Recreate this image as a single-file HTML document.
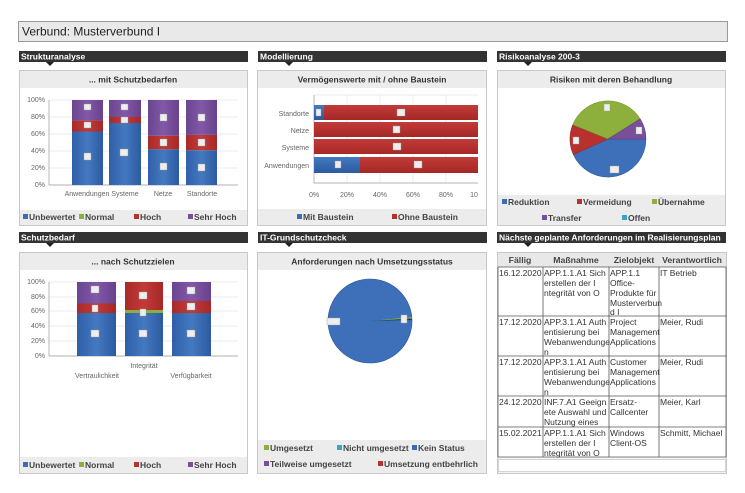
<!DOCTYPE html>
<html><head><meta charset="utf-8"><style>
html,body{margin:0;padding:0;background:#fff;}
svg{display:block;font-family:"Liberation Sans",sans-serif;}
.hd{font-size:8.5px;font-weight:bold;fill:#fff;}
.tt{font-size:8.5px;font-weight:bold;fill:#333;}
.ax{font-size:7px;fill:#666;}
.lg{font-size:8.5px;font-weight:bold;fill:#444;}
.tb{font-size:8.5px;fill:#333;}
.th{font-size:8.7px;font-weight:bold;fill:#444;}
.dl{font-size:6px;fill:#555;}
</style></head><body>
<svg width="745" height="493" viewBox="0 0 745 493">
<defs>
<linearGradient id="gb" x1="0" x2="1"><stop offset="0" stop-color="#2f5fa8"/><stop offset=".5" stop-color="#4479c0"/><stop offset="1" stop-color="#2c5aa0"/></linearGradient>
<linearGradient id="gr" x1="0" x2="1"><stop offset="0" stop-color="#a82a28"/><stop offset=".5" stop-color="#c23b38"/><stop offset="1" stop-color="#a52826"/></linearGradient>
<linearGradient id="gp" x1="0" x2="1"><stop offset="0" stop-color="#6a4590"/><stop offset=".5" stop-color="#8258a8"/><stop offset="1" stop-color="#67428c"/></linearGradient>
<linearGradient id="gbh" x1="0" y1="0" x2="0" y2="1"><stop offset="0" stop-color="#4479c0"/><stop offset="1" stop-color="#2c5aa0"/></linearGradient>
<linearGradient id="grh" x1="0" y1="0" x2="0" y2="1"><stop offset="0" stop-color="#c23b38"/><stop offset="1" stop-color="#a52826"/></linearGradient>
</defs>
<rect x="18.5" y="21.5" width="709" height="20" fill="#e9e9e9" stroke="#999"/>
<text x="22" y="35.5" font-size="12" fill="#222">Verbund: Musterverbund I</text>

<g>
<rect x="19" y="51" width="229" height="11" fill="#333"/><text class="hd" x="21" y="59.5">Strukturanalyse</text><path d="M46 62h8l-4 4z" fill="#222"/>
<rect x="258" y="51" width="229" height="11" fill="#333"/><text class="hd" x="260" y="59.5">Modellierung</text><path d="M285 62h8l-4 4z" fill="#222"/>
<rect x="497" y="51" width="229" height="11" fill="#333"/><text class="hd" x="499" y="59.5">Risikoanalyse 200-3</text><path d="M524 62h8l-4 4z" fill="#222"/>
<rect x="19" y="232" width="229" height="11" fill="#333"/><text class="hd" x="21" y="240.5">Schutzbedarf</text><path d="M46 243h8l-4 4z" fill="#222"/>
<rect x="258" y="232" width="229" height="11" fill="#333"/><text class="hd" x="260" y="240.5">IT-Grundschutzcheck</text><path d="M285 243h8l-4 4z" fill="#222"/>
<rect x="497" y="232" width="229" height="11" fill="#333"/><text class="hd" x="499" y="240.5">Nächste geplante Anforderungen im Realisierungsplan</text><path d="M524 243h8l-4 4z" fill="#222"/>
</g>

<rect x="19.5" y="70.5" width="228" height="155" fill="#fff" stroke="#c8c8c8"/>
<rect x="20" y="71" width="227" height="17" fill="#ececec"/>
<text class="tt" x="133" y="82.5" text-anchor="middle">... mit Schutzbedarfen</text>
<g stroke="#e4e4e4" stroke-width="0.7">
<line x1="49" y1="100" x2="238" y2="100"/><line x1="49" y1="117" x2="238" y2="117"/><line x1="49" y1="134" x2="238" y2="134"/><line x1="49" y1="151" x2="238" y2="151"/><line x1="49" y1="168" x2="238" y2="168"/></g>
<line x1="49" y1="100" x2="49" y2="185" stroke="#999" stroke-width=".7"/><line x1="49" y1="185" x2="238" y2="185" stroke="#999" stroke-width=".7"/>
<g class="ax" text-anchor="end"><text x="45" y="102">100%</text><text x="45" y="119">80%</text><text x="45" y="136">60%</text><text x="45" y="153">40%</text><text x="45" y="170">20%</text><text x="45" y="187">0%</text></g>
<g>
<rect x="72" y="131.5" width="31" height="53.5" fill="url(#gb)"/><rect x="72" y="120.4" width="31" height="11.1" fill="url(#gr)"/><rect x="72" y="100" width="31" height="20.4" fill="url(#gp)"/>
<rect x="109" y="123" width="32" height="62" fill="url(#gb)"/><rect x="109" y="117" width="32" height="6" fill="url(#gr)"/><rect x="109" y="100" width="32" height="17" fill="url(#gp)"/>
<rect x="148" y="149.3" width="31" height="35.7" fill="url(#gb)"/><rect x="148" y="135.7" width="31" height="13.6" fill="url(#gr)"/><rect x="148" y="100" width="31" height="35.7" fill="url(#gp)"/>
<rect x="186" y="150.2" width="31" height="34.8" fill="url(#gb)"/><rect x="186" y="134.9" width="31" height="15.3" fill="url(#gr)"/><rect x="186" y="100" width="31" height="34.9" fill="url(#gp)"/>
</g>
<g fill="#eee" stroke="#999" stroke-width=".4">
<rect x="84" y="153" width="7" height="7"/><rect x="84" y="122" width="7" height="6"/><rect x="84" y="104" width="7" height="6"/>
<rect x="120" y="149" width="8" height="7"/><rect x="121" y="117" width="7" height="6"/><rect x="121" y="104" width="7" height="6"/>
<rect x="160" y="163" width="7" height="7"/><rect x="160" y="139" width="7" height="7"/><rect x="160" y="114" width="7" height="7"/>
<rect x="198" y="164" width="7" height="7"/><rect x="198" y="139" width="7" height="7"/><rect x="198" y="114" width="7" height="7"/>
</g>
<g class="ax" font-size="6.3" text-anchor="middle"><text x="87" y="196">Anwendungen</text><text x="125" y="196">Systeme</text><text x="163" y="196">Netze</text><text x="202" y="196">Standorte</text></g>
<rect x="20" y="210" width="227" height="15" fill="#ececec"/>
<g class="lg"><rect x="23" y="214" width="5" height="5" fill="#3a6db5"/><text x="29" y="220">Unbewertet</text>
<rect x="79" y="214" width="5" height="5" fill="#8db03c"/><text x="85" y="220">Normal</text>
<rect x="134" y="214" width="5" height="5" fill="#b8312f"/><text x="140" y="220">Hoch</text>
<rect x="188" y="214" width="5" height="5" fill="#7a4f9a"/><text x="194" y="220">Sehr Hoch</text></g>

<rect x="257.5" y="70.5" width="229" height="155" fill="#fff" stroke="#c8c8c8"/>
<rect x="258" y="71" width="228" height="17" fill="#ececec"/>
<text class="tt" x="372" y="82.5" text-anchor="middle">Vermögenswerte mit / ohne Baustein</text>
<g stroke="#e4e4e4" stroke-width=".7"><line x1="347" y1="95" x2="347" y2="183"/><line x1="380" y1="95" x2="380" y2="183"/><line x1="413" y1="95" x2="413" y2="183"/><line x1="446" y1="95" x2="446" y2="183"/><line x1="314" y1="95" x2="478" y2="95"/></g>
<line x1="314" y1="95" x2="314" y2="183" stroke="#999" stroke-width=".7"/><line x1="314" y1="183" x2="478" y2="183" stroke="#999" stroke-width=".7"/>
<rect x="314" y="105" width="10" height="15" fill="url(#gbh)"/><rect x="324" y="105" width="154" height="15" fill="url(#grh)"/>
<rect x="314" y="122" width="164" height="15" fill="url(#grh)"/>
<rect x="314" y="139" width="164" height="15" fill="url(#grh)"/>
<rect x="314" y="157" width="46" height="16" fill="url(#gbh)"/><rect x="360" y="157" width="118" height="16" fill="url(#grh)"/>
<g fill="#eee" stroke="#999" stroke-width=".4"><rect x="316" y="109" width="5" height="7"/><rect x="397" y="109" width="8" height="7"/><rect x="393" y="126" width="7" height="7"/><rect x="393" y="143" width="8" height="7"/><rect x="335" y="161" width="6" height="7"/><rect x="414" y="161" width="8" height="7"/></g>
<g class="ax" text-anchor="end" font-size="7.2"><text x="309" y="116">Standorte</text><text x="309" y="133">Netze</text><text x="309" y="150">Systeme</text><text x="309" y="168">Anwendungen</text></g>
<g class="ax" text-anchor="middle" font-size="7.2"><text x="314" y="197">0%</text><text x="347" y="197">20%</text><text x="380" y="197">40%</text><text x="413" y="197">60%</text><text x="446" y="197">80%</text><text x="474" y="197">10</text></g>
<rect x="258" y="209" width="228" height="16" fill="#ececec"/>
<g class="lg"><rect x="297" y="214" width="5" height="5" fill="#3a6db5"/><text x="303" y="220">Mit Baustein</text>
<rect x="392" y="214" width="5" height="5" fill="#b8312f"/><text x="398" y="220">Ohne Baustein</text></g>

<rect x="497.5" y="70.5" width="228" height="155" fill="#fff" stroke="#c8c8c8"/>
<rect x="498" y="71" width="227" height="17" fill="#ececec"/>
<text class="tt" x="611" y="82.5" text-anchor="middle">Risiken mit deren Behandlung</text>
<path d="M608 139 L646 139 A38 38 0 0 1 573.3 154.6 Z" fill="#3d70b8" stroke="#2b5595" stroke-width=".5"/>
<path d="M608 139 L573.3 154.6 A38 38 0 0 1 572.7 124.7 Z" fill="#b8312f" stroke="#8f2422" stroke-width=".5"/>
<path d="M608 139 L572.7 124.7 A38 38 0 0 1 640.2 118.8 Z" fill="#8db03c" stroke="#6d8a2c" stroke-width=".5"/>
<path d="M608 139 L640.2 118.8 A38 38 0 0 1 646 139 Z" fill="#7a4f9a" stroke="#5a3a74" stroke-width=".5"/>
<g fill="#eee" stroke="#999" stroke-width=".4"><rect x="604" y="104" width="6" height="7"/><rect x="573" y="137" width="6" height="7"/><rect x="636" y="127" width="6" height="7"/><rect x="610" y="166" width="9" height="7"/></g>
<rect x="498" y="195" width="227" height="30" fill="#ececec"/>
<g class="lg"><rect x="502" y="199" width="5" height="5" fill="#3a6db5"/><text x="508" y="205">Reduktion</text>
<rect x="577" y="199" width="5" height="5" fill="#b8312f"/><text x="583" y="205">Vermeidung</text>
<rect x="652" y="199" width="5" height="5" fill="#8db03c"/><text x="658" y="205">Übernahme</text>
<rect x="542" y="215" width="5" height="5" fill="#7a4f9a"/><text x="548" y="221">Transfer</text>
<rect x="622" y="215" width="5" height="5" fill="#3aa6c5"/><text x="628" y="221">Offen</text></g>

<rect x="19.5" y="252.5" width="228" height="221" fill="#fff" stroke="#c8c8c8"/>
<rect x="20" y="253" width="227" height="17" fill="#ececec"/>
<text class="tt" x="133" y="264.5" text-anchor="middle">... nach Schutzzielen</text>
<g stroke="#e4e4e4" stroke-width=".7"><line x1="49" y1="282" x2="238" y2="282"/><line x1="49" y1="297" x2="238" y2="297"/><line x1="49" y1="311" x2="238" y2="311"/><line x1="49" y1="326" x2="238" y2="326"/><line x1="49" y1="341" x2="238" y2="341"/></g>
<line x1="49" y1="282" x2="49" y2="356" stroke="#999" stroke-width=".7"/><line x1="49" y1="356" x2="238" y2="356" stroke="#999" stroke-width=".7"/>
<g class="ax" text-anchor="end"><text x="45" y="284">100%</text><text x="45" y="299">80%</text><text x="45" y="313">60%</text><text x="45" y="328">40%</text><text x="45" y="343">20%</text><text x="45" y="358">0%</text></g>
<rect x="77" y="313" width="39" height="43" fill="url(#gb)"/><rect x="77" y="303.5" width="39" height="9.5" fill="url(#gr)"/><rect x="77" y="282" width="39" height="21.5" fill="url(#gp)"/>
<rect x="125" y="313" width="38" height="43" fill="url(#gb)"/><rect x="125" y="310" width="38" height="3" fill="#8db03c"/><rect x="125" y="282" width="38" height="28" fill="url(#gr)"/>
<rect x="172" y="313" width="39" height="43" fill="url(#gb)"/><rect x="172" y="301" width="39" height="12" fill="url(#gr)"/><rect x="172" y="282" width="39" height="19" fill="url(#gp)"/>
<g fill="#eee" stroke="#999" stroke-width=".4"><rect x="91" y="330" width="8" height="7"/><rect x="92" y="305" width="6" height="7"/><rect x="91" y="286" width="8" height="7"/>
<rect x="139" y="330" width="8" height="7"/><rect x="140" y="309" width="6" height="7"/><rect x="139" y="292" width="8" height="7"/>
<rect x="187" y="330" width="8" height="7"/><rect x="187" y="303" width="8" height="7"/><rect x="187" y="287" width="8" height="7"/></g>
<g class="ax" text-anchor="middle" font-size="6.3"><text x="97" y="378">Vertraulichkeit</text><text x="144" y="368">Integrität</text><text x="191" y="378">Verfügbarkeit</text></g>
<rect x="20" y="457" width="227" height="16" fill="#ececec"/>
<g class="lg"><rect x="23" y="462" width="5" height="5" fill="#3a6db5"/><text x="29" y="468">Unbewertet</text>
<rect x="79" y="462" width="5" height="5" fill="#8db03c"/><text x="85" y="468">Normal</text>
<rect x="134" y="462" width="5" height="5" fill="#b8312f"/><text x="140" y="468">Hoch</text>
<rect x="188" y="462" width="5" height="5" fill="#7a4f9a"/><text x="194" y="468">Sehr Hoch</text></g>

<rect x="257.5" y="252.5" width="229" height="221" fill="#fff" stroke="#c8c8c8"/>
<rect x="258" y="253" width="228" height="17" fill="#ececec"/>
<text class="tt" x="372" y="264.5" text-anchor="middle">Anforderungen nach Umsetzungsstatus</text>
<circle cx="370" cy="321" r="42" fill="#3d70b8" stroke="#2b5595" stroke-width=".6"/>
<path d="M370 321 L411.8 317 L412 318.5 Z" fill="#8db03c"/><path d="M370 321 L412 318.5 L412 320 Z" fill="#1f3a66"/>
<g fill="#eee" stroke="#999" stroke-width=".4"><rect x="327" y="318" width="13" height="7"/><rect x="401" y="315" width="6" height="8"/></g>
<rect x="258" y="440" width="228" height="33" fill="#ececec"/>
<g class="lg"><rect x="264" y="445" width="5" height="5" fill="#8db03c"/><text x="270" y="451">Umgesetzt</text>
<rect x="337" y="445" width="5" height="5" fill="#3aa6c5"/><text x="343" y="451">Nicht umgesetzt</text>
<rect x="412" y="445" width="5" height="5" fill="#3a6db5"/><text x="418" y="451">Kein Status</text>
<rect x="264" y="461" width="5" height="5" fill="#7a4f9a"/><text x="270" y="467">Teilweise umgesetzt</text>
<rect x="378" y="461" width="5" height="5" fill="#b8312f"/><text x="384" y="467">Umsetzung entbehrlich</text></g>

<rect x="497.5" y="252.5" width="229" height="221" fill="#f4f4f4" stroke="#c8c8c8"/>
<rect x="498" y="253" width="228" height="14" fill="#e8e8e8"/>
<rect x="498" y="267" width="228" height="190" fill="#fff"/>
<g class="th" text-anchor="middle"><text x="520" y="263">Fällig</text><text x="576" y="263">Maßnahme</text><text x="634" y="263">Zielobjekt</text><text x="692" y="263">Verantwortlich</text></g>
<g stroke="#555" stroke-width=".8" fill="none">
<line x1="498" y1="267" x2="726" y2="267"/><line x1="498" y1="316" x2="726" y2="316"/><line x1="498" y1="356" x2="726" y2="356"/><line x1="498" y1="396" x2="726" y2="396"/><line x1="498" y1="427" x2="726" y2="427"/><line x1="498" y1="457" x2="726" y2="457"/>
<line x1="543" y1="267" x2="543" y2="457"/><line x1="609" y1="267" x2="609" y2="457"/><line x1="659" y1="267" x2="659" y2="457"/>
<line x1="498" y1="267" x2="498" y2="457"/><line x1="726" y1="267" x2="726" y2="457"/></g>
<rect x="498.5" y="459.5" width="227" height="12" fill="#fff" stroke="#bbb" stroke-width=".6"/>
<g class="tb">
<text x="499" y="276">16.12.2020</text><text x="544" y="276">APP.1.1.A1 Sich</text><text x="544" y="286">erstellen der I</text><text x="544" y="296">ntegrität von O</text>
<text x="610" y="276">APP.1.1</text><text x="610" y="286">Office-</text><text x="610" y="296">Produkte für</text><text x="610" y="306">Musterverbun</text><text x="610" y="315">d I</text><text x="660" y="276">IT Betrieb</text>
<text x="499" y="325">17.12.2020</text><text x="544" y="325">APP.3.1.A1 Auth</text><text x="544" y="335">entisierung bei</text><text x="544" y="345">Webanwendunge</text><text x="544" y="355">n</text>
<text x="610" y="325">Project</text><text x="610" y="335">Management</text><text x="610" y="345">Applications</text><text x="660" y="325">Meier, Rudi</text>
<text x="499" y="365">17.12.2020</text><text x="544" y="365">APP.3.1.A1 Auth</text><text x="544" y="375">entisierung bei</text><text x="544" y="385">Webanwendunge</text><text x="544" y="395">n</text>
<text x="610" y="365">Customer</text><text x="610" y="375">Management</text><text x="610" y="385">Applications</text><text x="660" y="365">Meier, Rudi</text>
<text x="499" y="405">24.12.2020</text><text x="544" y="405">INF.7.A1 Geeign</text><text x="544" y="415">ete Auswahl und</text><text x="544" y="425">Nutzung eines</text>
<text x="610" y="405">Ersatz-</text><text x="610" y="415">Callcenter</text><text x="660" y="405">Meier, Karl</text>
<text x="499" y="436">15.02.2021</text><text x="544" y="436">APP.1.1.A1 Sich</text><text x="544" y="446">erstellen der I</text><text x="544" y="456">ntegrität von O</text>
<text x="610" y="436">Windows</text><text x="610" y="446">Client-OS</text><text x="660" y="436">Schmitt, Michael</text>
</g>
</svg>
</body></html>
